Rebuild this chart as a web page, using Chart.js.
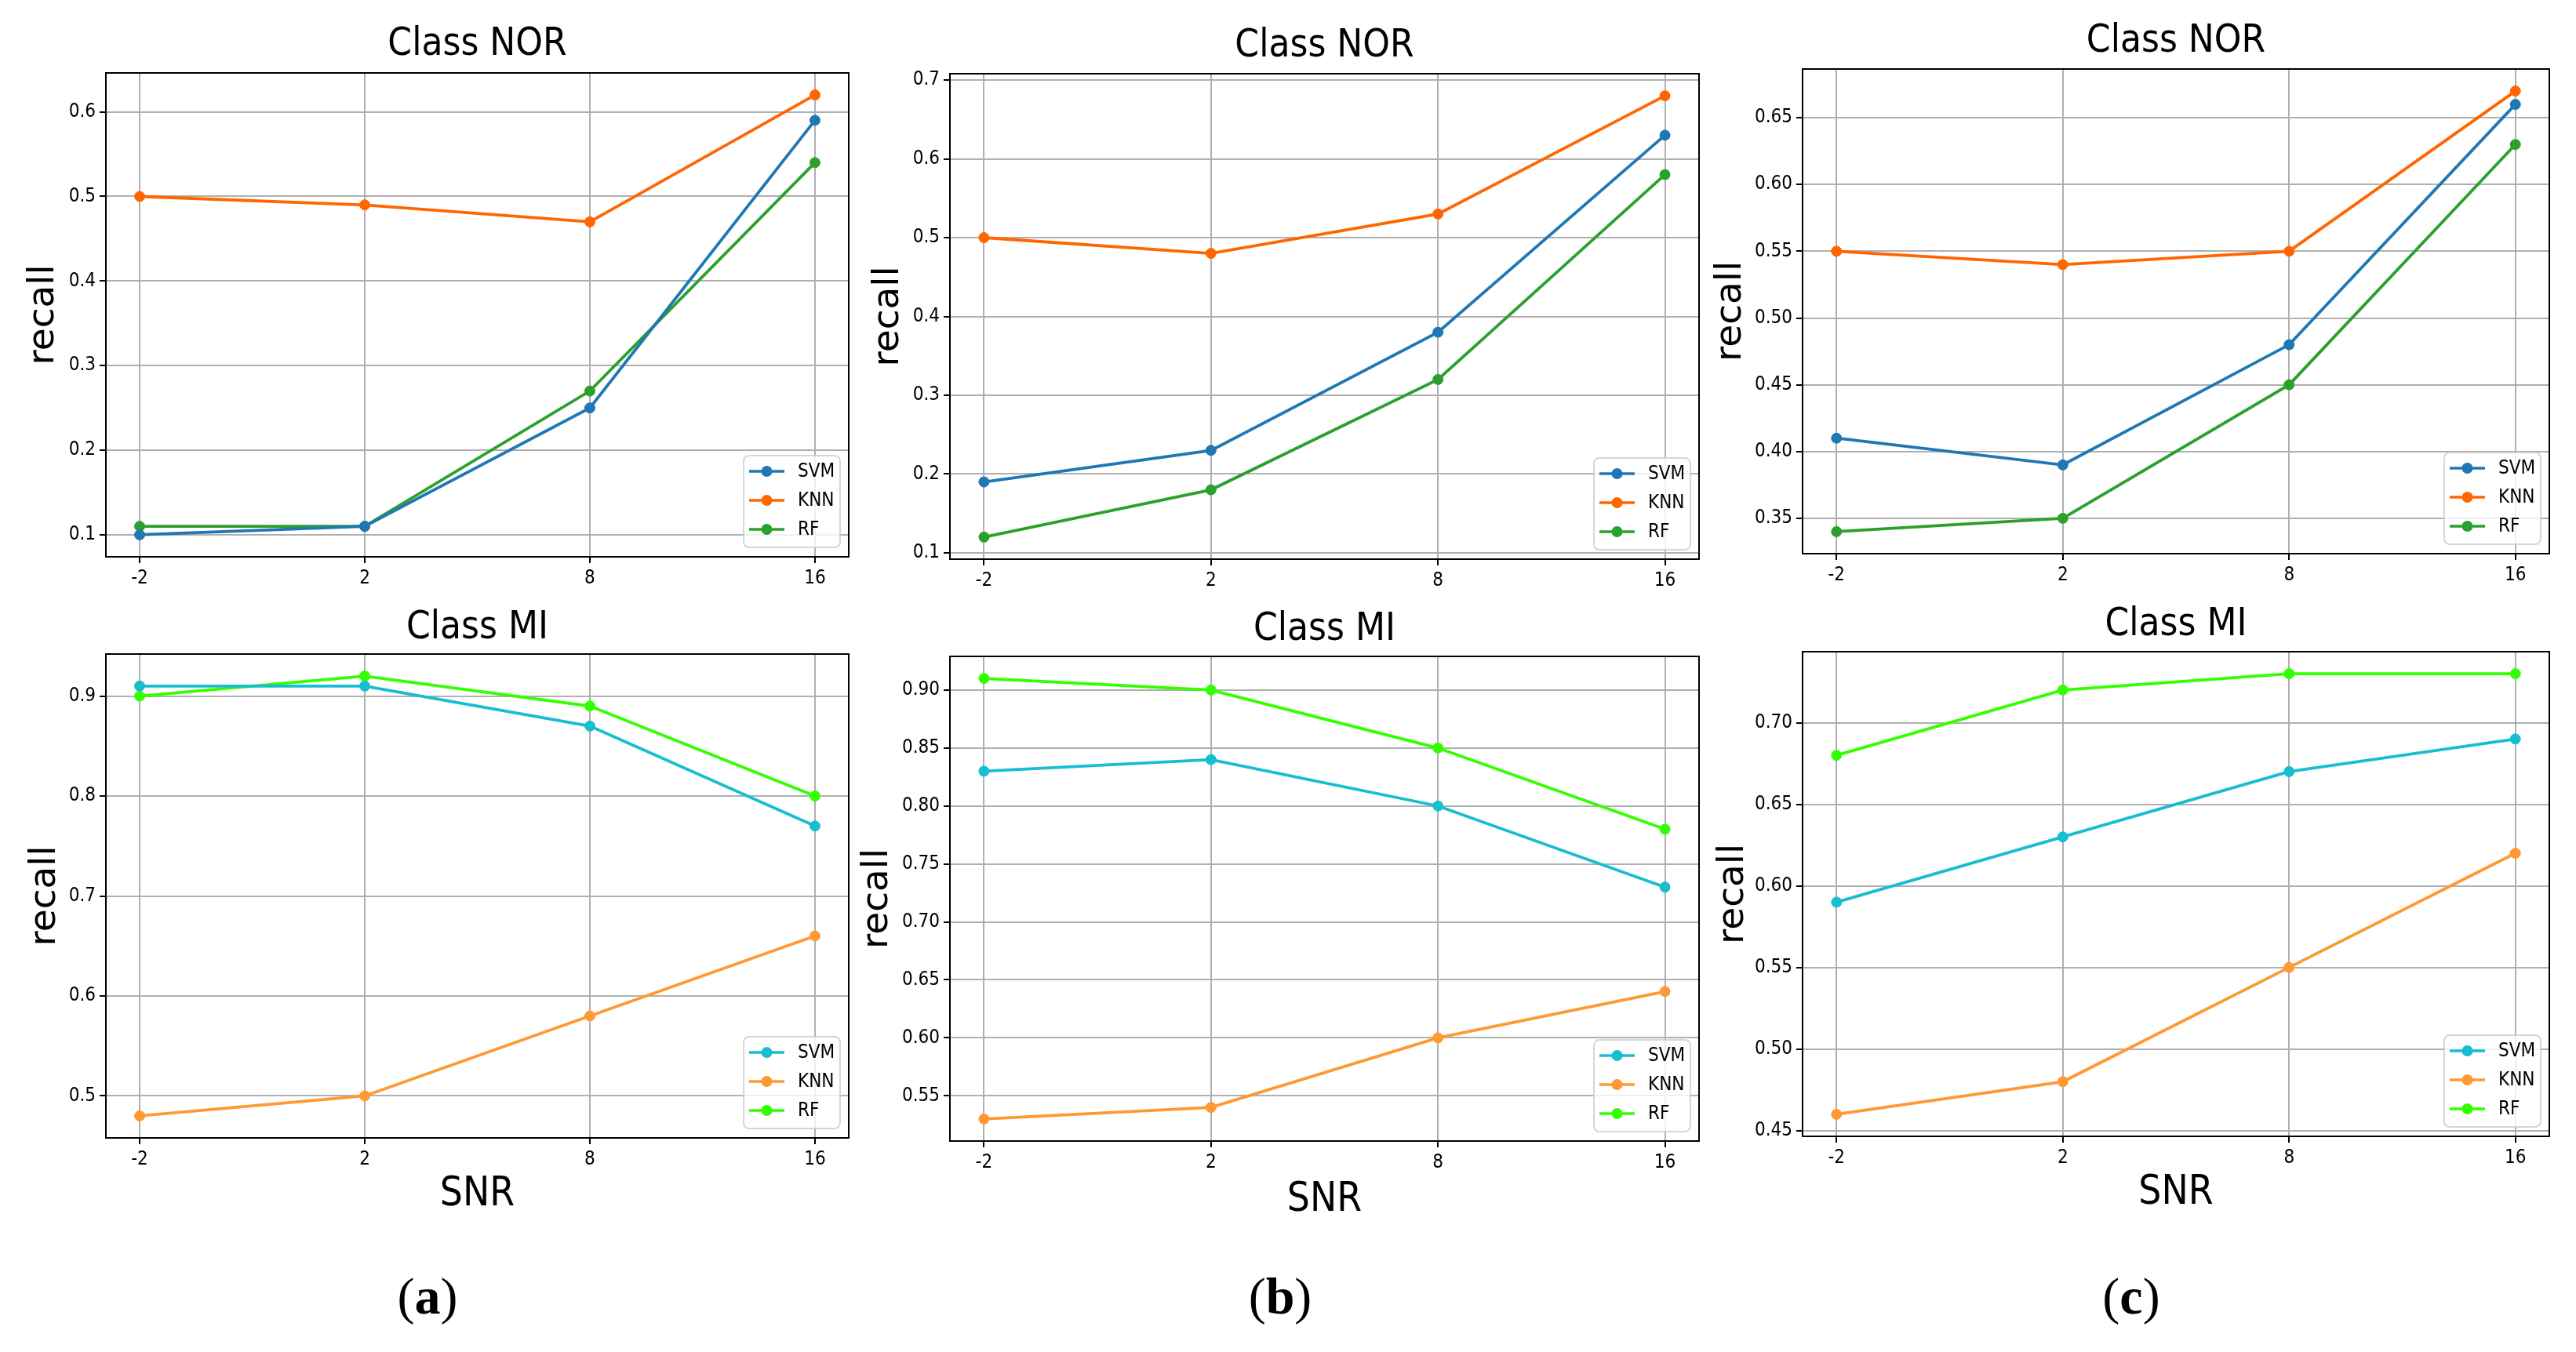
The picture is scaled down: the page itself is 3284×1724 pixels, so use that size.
<!DOCTYPE html>
<html>
<head>
<meta charset="utf-8">
<script src="https://cdn.jsdelivr.net/npm/chart.js@4.4.1/dist/chart.umd.min.js"></script>
<style>
  html, body { margin: 0; padding: 0; background: #fff; }
  body { width: 3284px; height: 1724px; position: relative; overflow: hidden; }
  .panel { position: absolute; }
  .tag {
    position: absolute; transform: translate(-50%, -50%);
    font-family: 'Liberation Serif', 'DejaVu Serif', serif; font-size: 66px; color: #000;
    line-height: 1; white-space: nowrap;
  }
</style>
</head>
<body>
<div class="tag" style="left:545px; top:1653px;">(<b>a</b>)</div>
<div class="tag" style="left:1632px; top:1653px;">(<b>b</b>)</div>
<div class="tag" style="left:2717px; top:1653px;">(<b>c</b>)</div>

<script>
/* recall per SNR for each classifier */

const snrLabels = ['-2', '2', '8', '16'];
const models = ['SVM', 'KNN', 'RF'];

// (a)
const norSvmA = [0.10, 0.11, 0.25, 0.59];
const norKnnA = [0.50, 0.49, 0.47, 0.62];
const norRfA  = [0.11, 0.11, 0.27, 0.54];
const miSvmA  = [0.91, 0.91, 0.87, 0.77];
const miKnnA  = [0.48, 0.50, 0.58, 0.66];
const miRfA   = [0.90, 0.92, 0.89, 0.80];

// (b)
const norSvmB = [0.19, 0.23, 0.38, 0.63];
const norKnnB = [0.50, 0.48, 0.53, 0.68];
const norRfB  = [0.12, 0.18, 0.32, 0.58];
const miSvmB  = [0.83, 0.84, 0.80, 0.73];
const miKnnB  = [0.53, 0.54, 0.60, 0.64];
const miRfB   = [0.91, 0.90, 0.85, 0.78];

// (c)
const norSvmC = [0.41, 0.39, 0.48, 0.66];
const norKnnC = [0.55, 0.54, 0.55, 0.67];
const norRfC  = [0.34, 0.35, 0.45, 0.63];
const miSvmC  = [0.59, 0.63, 0.67, 0.69];
const miKnnC  = [0.46, 0.48, 0.55, 0.62];
const miRfC   = [0.68, 0.72, 0.73, 0.73];

// y tick labels
const yTicksNorA = ['0.1', '0.2', '0.3', '0.4', '0.5', '0.6'];
const yTicksMiA  = ['0.5', '0.6', '0.7', '0.8', '0.9'];
const yTicksNorB = ['0.1', '0.2', '0.3', '0.4', '0.5', '0.6', '0.7'];
const yTicksMiB  = ['0.55', '0.60', '0.65', '0.70', '0.75', '0.80', '0.85', '0.90'];
const yTicksNorC = ['0.35', '0.40', '0.45', '0.50', '0.55', '0.60', '0.65'];
const yTicksMiC  = ['0.45', '0.50', '0.55', '0.60', '0.65', '0.70'];

const norColors = ['#1f77b4', '#ff6600', '#2ca02c'];
const miColors  = ['#17becf', '#ff9933', '#33ff00'];

const COND = "'DejaVu Sans Condensed', 'DejaVu Sans', sans-serif";
const PLAIN = "'DejaVu Sans', sans-serif";

// page layout: canvas boxes and where the plot area / labels sit
const cols = [[0, 1100], [1085, 2185], [2170, 3284]];
const rows = [[0, 762], [762, 1580]];

const panels = [
  { col: 0, row: 0, title: 'Class NOR', series: [norSvmA, norKnnA, norRfA], ticks: yTicksNorA, colors: norColors,
    plot: [135, 93, 1082, 710], titleY: 57, ylabX: 56 },
  { col: 1, row: 0, title: 'Class NOR', series: [norSvmB, norKnnB, norRfB], ticks: yTicksNorB, colors: norColors,
    plot: [1211, 94, 2166, 713], titleY: 59, ylabX: 1133 },
  { col: 2, row: 0, title: 'Class NOR', series: [norSvmC, norKnnC, norRfC], ticks: yTicksNorC, colors: norColors,
    plot: [2298, 88, 3250, 706], titleY: 53, ylabX: 2207 },
  { col: 0, row: 1, title: 'Class MI', series: [miSvmA, miKnnA, miRfA], ticks: yTicksMiA, colors: miColors,
    plot: [135, 834, 1082, 1451], titleY: 801, ylabX: 58, snrY: 1524 },
  { col: 1, row: 1, title: 'Class MI', series: [miSvmB, miKnnB, miRfB], ticks: yTicksMiB, colors: miColors,
    plot: [1211, 837, 2166, 1455], titleY: 803, ylabX: 1119, snrY: 1531 },
  { col: 2, row: 1, title: 'Class MI', series: [miSvmC, miKnnC, miRfC], ticks: yTicksMiC, colors: miColors,
    plot: [2298, 831, 3250, 1449], titleY: 797, ylabX: 2210, snrY: 1522 }
];

// axes frame + legend box in the lower right of the plot
const frameAndLegend = {
  id: 'frameAndLegend',
  afterDatasetsDraw(chart) {
    const ctx = chart.ctx;
    const a = chart.chartArea;
    ctx.save();
    ctx.strokeStyle = '#000';
    ctx.lineWidth = 2;
    ctx.strokeRect(a.left, a.top, a.right - a.left, a.bottom - a.top);

    const w = 123, h = 117, r = 7;
    const x = a.right - 11 - w, y = a.bottom - 12 - h;
    ctx.beginPath();
    ctx.moveTo(x + r, y);
    ctx.arcTo(x + w, y, x + w, y + h, r);
    ctx.arcTo(x + w, y + h, x, y + h, r);
    ctx.arcTo(x, y + h, x, y, r);
    ctx.arcTo(x, y, x + w, y, r);
    ctx.closePath();
    ctx.fillStyle = 'rgba(255,255,255,0.8)';
    ctx.fill();
    ctx.strokeStyle = 'rgba(204,204,204,0.8)';
    ctx.lineWidth = 2;
    ctx.stroke();

    ctx.font = '24px ' + COND;
    ctx.textBaseline = 'middle';
    ctx.textAlign = 'left';
    chart.data.datasets.forEach((ds, i) => {
      const cy = y + 20 + i * 37;
      ctx.strokeStyle = ds.borderColor;
      ctx.lineWidth = 3.5;
      ctx.beginPath();
      ctx.moveTo(x + 7, cy);
      ctx.lineTo(x + 52, cy);
      ctx.stroke();
      ctx.fillStyle = ds.borderColor;
      ctx.beginPath();
      ctx.arc(x + 29.5, cy, 7, 0, Math.PI * 2);
      ctx.fill();
      ctx.fillStyle = '#000';
      ctx.fillText(ds.label, x + 69, cy + 1);
    });
    ctx.restore();
  }
};

function paddedRange(series) {
  const all = series.flat();
  const lo = Math.min(...all), hi = Math.max(...all);
  const m = (hi - lo) * 0.05;
  return [lo - m, hi + m];
}

panels.forEach(p => {
  const [cx0, cx1] = cols[p.col];
  const [ry0, ry1] = rows[p.row];
  const [pl, pt, pr, pb] = p.plot;

  const div = document.createElement('div');
  div.className = 'panel';
  div.style.left = cx0 + 'px';
  div.style.top = ry0 + 'px';
  div.style.width = (cx1 - cx0) + 'px';
  div.style.height = (ry1 - ry0) + 'px';
  const canvas = document.createElement('canvas');
  div.appendChild(canvas);
  document.body.appendChild(div);

  const titleLH = 49 * 1.2;
  const titleTop = p.titleY - ry0 - titleLH / 2;
  const titleBottom = pt - ry0 - titleLH - titleTop;
  const ylabLH = 47 * 1.2;
  const snrLH = 51 * 1.2;
  const [ymin, ymax] = paddedRange(p.series);
  const yVals = p.ticks.map(Number);

  new Chart(canvas, {
    type: 'line',
    data: {
      datasets: p.series.map((vals, i) => ({
        label: models[i],
        data: vals.map((v, k) => ({ x: k, y: v })),
        borderColor: p.colors[i],
        backgroundColor: p.colors[i],
        pointBackgroundColor: p.colors[i],
        pointBorderColor: p.colors[i],
        borderWidth: 3.8,
        pointRadius: 6.5,
        pointBorderWidth: 1,
        tension: 0,
        fill: false
      }))
    },
    options: {
      responsive: true,
      maintainAspectRatio: false,
      animation: false,
      events: [],
      layout: { padding: { left: 0, top: 0, bottom: 0, right: cx1 - pr } },
      plugins: {
        legend: { display: false },
        tooltip: { enabled: false },
        title: {
          display: true,
          fullSize: false,
          text: p.title,
          color: '#000',
          font: { family: COND, size: 49, weight: 'normal' },
          padding: { top: titleTop, bottom: titleBottom }
        }
      },
      scales: {
        x: {
          type: 'linear',
          min: -0.15,
          max: 3.15,
          afterBuildTicks: s => { s.ticks = snrLabels.map((_, k) => ({ value: k })); },
          afterFit: s => { s.height = ry1 - pb; },
          ticks: {
            autoSkip: false,
            maxRotation: 0,
            padding: 5,
            color: '#000',
            font: { family: COND, size: 24 },
            callback: (v, idx) => snrLabels[idx]
          },
          grid: { color: '#b0b0b0', lineWidth: 2, tickColor: '#000', tickLength: 8, tickWidth: 2 },
          border: { display: false },
          title: p.snrY ? {
            display: true,
            text: 'SNR',
            color: '#000',
            font: { family: COND, size: 51 },
            padding: { top: 0, bottom: ry1 - p.snrY - snrLH / 2 }
          } : { display: false }
        },
        y: {
          min: ymin,
          max: ymax,
          afterBuildTicks: s => { s.ticks = yVals.map(v => ({ value: v })); },
          afterFit: s => { s.width = pl - cx0; },
          ticks: {
            autoSkip: false,
            padding: 5,
            color: '#000',
            font: { family: COND, size: 24 },
            callback: (v, idx) => p.ticks[idx]
          },
          grid: { color: '#b0b0b0', lineWidth: 2, tickColor: '#000', tickLength: 8, tickWidth: 2 },
          border: { display: false },
          title: {
            display: true,
            text: 'recall',
            color: '#000',
            font: { family: PLAIN, size: 47 },
            padding: { top: p.ylabX - cx0 - ylabLH / 2, bottom: 0 }
          }
        }
      }
    },
    plugins: [frameAndLegend]
  });
});
</script>
</body>
</html>
